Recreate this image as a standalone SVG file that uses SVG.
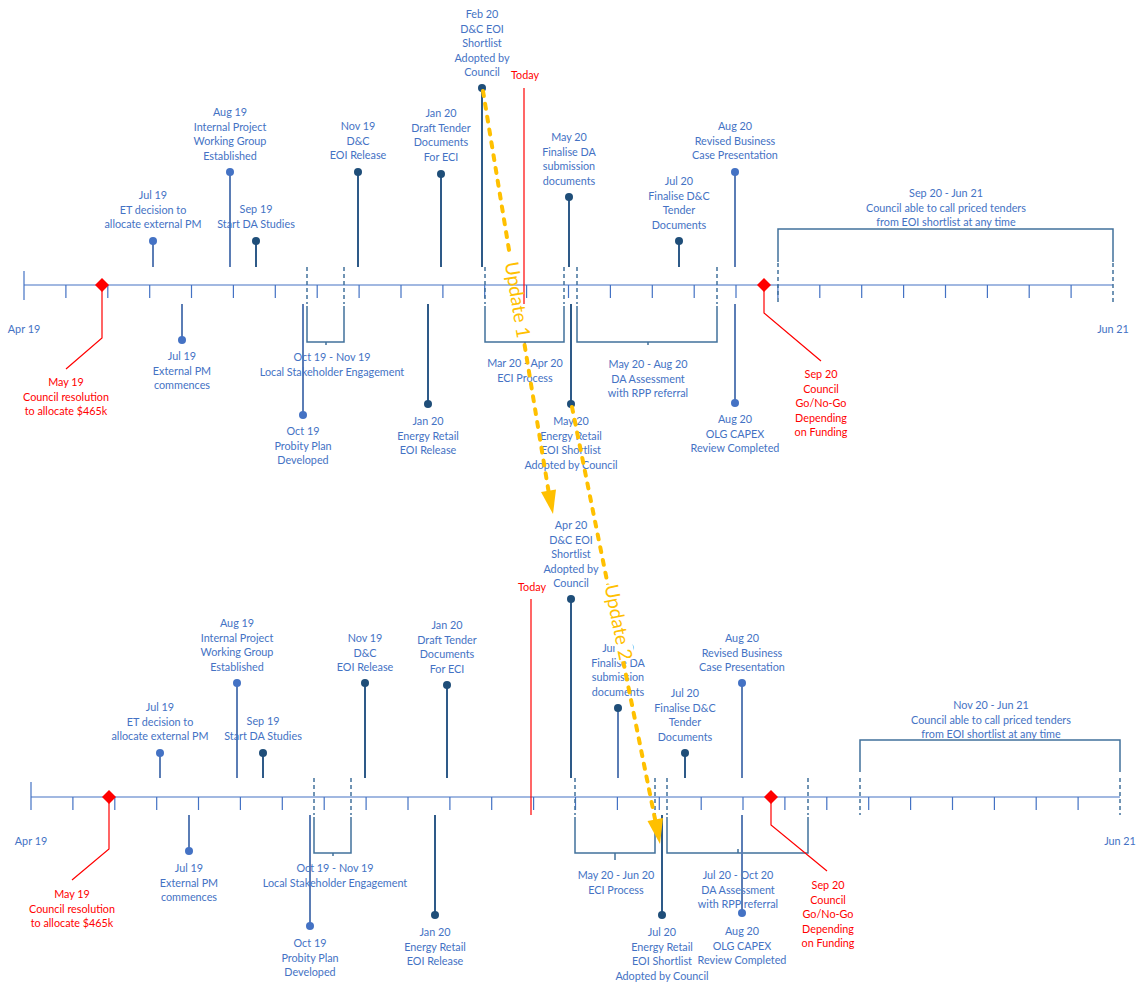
<svg xmlns="http://www.w3.org/2000/svg" width="1136" height="983" viewBox="0 0 1136 983">
<defs>
<style>
.t{font-family:Lato,"Liberation Sans",sans-serif;font-size:10.8px;fill:#4472C4;text-anchor:middle}
.r{fill:#FF0000}
.ax{stroke:#4472C4;stroke-width:1.2;fill:none}
.tk{stroke:#4472C4;stroke-width:1.2}
.s{stroke:#5B7DB5;stroke-width:2}
.sd{stroke:#2E5A88;stroke-width:2}
.d{fill:#4472C4}
.dd{fill:#1F4E79}
.b{stroke:#41719C;stroke-width:1.5;fill:none}
.bd{stroke:#41719C;stroke-width:1.5;fill:none;stroke-dasharray:4 3}
.rl{stroke:#FF0000;stroke-width:1.2;fill:none}
.up{stroke:#FFC000;stroke-width:4;fill:none;stroke-dasharray:5 8;stroke-linecap:round}
.ut{font-family:Lato,"Liberation Sans",sans-serif;font-size:19px;fill:#FFC000;text-anchor:middle}
</style>
</defs>
<rect width="1136" height="983" fill="#fff"/>

<!-- ================= TOP TIMELINE ================= -->
<g id="top-axis">
<line class="ax" x1="24" y1="285" x2="1113" y2="285"/>
<line class="tk" x1="24" y1="271" x2="24" y2="300"/>
<path class="tk" d="M65.9,285V298M107.8,285V298M149.7,285V298M191.5,285V298M233.4,285V298M275.3,285V298M317.2,285V298M359.1,285V298M401,285V298M442.9,285V298M484.7,285V298M526.6,285V298M568.5,285V298M610.4,285V298M652.3,285V298M694.2,285V298M736,285V298M777.9,285V298M819.8,285V298M861.7,285V298M903.6,285V298M945.5,285V298M987.4,285V298M1029.2,285V298M1071.1,285V298"/>
<text class="t" x="24" y="333">Apr 19</text>
<text class="t" x="1113" y="333">Jun 21</text>
</g>

<g id="t-jul19-et">
<line class="s" x1="153" y1="241" x2="153" y2="267"/><circle class="d" cx="153" cy="241" r="4"/>
<text class="t" x="153" y="199"><tspan x="153">Jul 19</tspan><tspan x="153" dy="14.6">ET decision to</tspan><tspan x="153" dy="14.6">allocate external PM</tspan></text>
</g>
<g id="t-aug19-ipwg">
<line class="s" x1="230" y1="172" x2="230" y2="267"/><circle class="d" cx="230" cy="172" r="4"/>
<text class="t" x="230" y="116"><tspan x="230">Aug 19</tspan><tspan x="230" dy="14.6">Internal Project</tspan><tspan x="230" dy="14.6">Working Group</tspan><tspan x="230" dy="14.6">Established</tspan></text>
</g>
<g id="t-sep19-da">
<line class="sd" x1="256" y1="241" x2="256" y2="267"/><circle class="dd" cx="256" cy="241" r="4"/>
<text class="t" x="256" y="213"><tspan x="256">Sep 19</tspan><tspan x="256" dy="14.6">Start DA Studies</tspan></text>
</g>
<g id="t-nov19-dc">
<line class="sd" x1="358" y1="172" x2="358" y2="267"/><circle class="dd" cx="358" cy="172" r="4"/>
<text class="t" x="358" y="130"><tspan x="358">Nov 19</tspan><tspan x="358" dy="14.6">D&amp;C</tspan><tspan x="358" dy="14.6">EOI Release</tspan></text>
</g>
<g id="t-jan20-draft">
<line class="sd" x1="441" y1="174" x2="441" y2="267"/><circle class="dd" cx="441" cy="174" r="4"/>
<text class="t" x="441" y="117"><tspan x="441">Jan 20</tspan><tspan x="441" dy="14.6">Draft Tender</tspan><tspan x="441" dy="14.6">Documents</tspan><tspan x="441" dy="14.6">For ECI</tspan></text>
</g>
<g id="t-feb20-dceoi">
<line class="sd" x1="482" y1="88" x2="482" y2="267"/><circle class="dd" cx="482" cy="88" r="4"/>
<text class="t" x="482" y="18"><tspan x="482">Feb 20</tspan><tspan x="482" dy="14.6">D&amp;C EOI</tspan><tspan x="482" dy="14.6">Shortlist</tspan><tspan x="482" dy="14.6">Adopted by</tspan><tspan x="482" dy="14.6">Council</tspan></text>
</g>
<g id="t-today">
<line class="rl" x1="524" y1="88" x2="524" y2="304"/>
<text class="t r" x="525" y="79">Today</text>
</g>
<g id="t-may20-finda">
<line class="sd" x1="569" y1="197" x2="569" y2="267"/><circle class="dd" cx="569" cy="197" r="4"/>
<text class="t" x="569" y="141"><tspan x="569">May 20</tspan><tspan x="569" dy="14.6">Finalise DA</tspan><tspan x="569" dy="14.6">submission</tspan><tspan x="569" dy="14.6">documents</tspan></text>
</g>
<g id="t-jul20-findc">
<line class="sd" x1="679" y1="241" x2="679" y2="267"/><circle class="dd" cx="679" cy="241" r="4"/>
<text class="t" x="679" y="185"><tspan x="679">Jul 20</tspan><tspan x="679" dy="14.6">Finalise D&amp;C</tspan><tspan x="679" dy="14.6">Tender</tspan><tspan x="679" dy="14.6">Documents</tspan></text>
</g>
<g id="t-aug20-rbc">
<line class="s" x1="735" y1="172" x2="735" y2="267"/><circle class="d" cx="735" cy="172" r="4"/>
<text class="t" x="735" y="130"><tspan x="735">Aug 20</tspan><tspan x="735" dy="14.6">Revised Business</tspan><tspan x="735" dy="14.6">Case Presentation</tspan></text>
</g>
<g id="t-sep20-jun21">
<path class="b" d="M778,262V229H1113V262"/>
<path class="bd" d="M778,263V303M1113,263V303"/>
<text class="t" x="946" y="197"><tspan x="946">Sep 20 - Jun 21</tspan><tspan x="946" dy="14.6">Council able to call priced tenders</tspan><tspan x="946" dy="14.6">from EOI shortlist at any time</tspan></text>
</g>
<g id="t-may19-council">
<path class="rl" d="M102,285V338L66,369"/>
<polygon fill="#FF0000" points="102,278 109,285 102,292 95,285"/>
<text class="t r" x="66" y="386"><tspan x="66">May 19</tspan><tspan x="66" dy="14.6">Council resolution</tspan><tspan x="66" dy="14.6">to allocate $465k</tspan></text>
</g>
<g id="t-jul19-ext">
<line class="s" x1="182" y1="304" x2="182" y2="340"/><circle class="d" cx="182" cy="340" r="4"/>
<text class="t" x="182" y="360"><tspan x="182">Jul 19</tspan><tspan x="182" dy="14.6">External PM</tspan><tspan x="182" dy="14.6">commences</tspan></text>
</g>
<g id="t-oct19-probity">
<line class="s" x1="303" y1="304" x2="303" y2="415"/><circle class="d" cx="303" cy="415" r="4"/>
<text class="t" x="303" y="435"><tspan x="303">Oct 19</tspan><tspan x="303" dy="14.6">Probity Plan</tspan><tspan x="303" dy="14.6">Developed</tspan></text>
</g>
<g id="t-oct19-nov19">
<path class="bd" d="M307,267V304M344,267V304"/>
<path class="b" d="M307,306V342H344V306M326,342V345"/>
<text class="t" x="332" y="361"><tspan x="332">Oct 19 - Nov 19</tspan><tspan x="332" dy="14.6">Local Stakeholder Engagement</tspan></text>
</g>
<g id="t-jan20-energy">
<line class="sd" x1="428" y1="304" x2="428" y2="404"/><circle class="dd" cx="428" cy="404" r="4"/>
<text class="t" x="428" y="425"><tspan x="428">Jan 20</tspan><tspan x="428" dy="14.6">Energy Retail</tspan><tspan x="428" dy="14.6">EOI Release</tspan></text>
</g>
<g id="t-mar20-apr20">
<path class="bd" d="M485,267V304M564,267V304"/>
<path class="b" d="M485,306V342H564V306M525,342V346"/>
<text class="t" x="525" y="367"><tspan x="525">Mar 20 - Apr 20</tspan><tspan x="525" dy="14.6">ECI Process</tspan></text>
</g>
<g id="t-may20-energy">
<line class="sd" x1="571" y1="304" x2="571" y2="404"/><circle class="dd" cx="571" cy="404" r="4"/>
<text class="t" x="571" y="425"><tspan x="571">May 20</tspan><tspan x="571" dy="14.6">Energy Retail</tspan><tspan x="571" dy="14.6">EOI Shortlist</tspan><tspan x="571" dy="14.6">Adopted by Council</tspan></text>
</g>
<g id="t-may20-aug20">
<path class="bd" d="M577,267V304M717,267V304"/>
<path class="b" d="M577,306V342H717V306M648,342V345"/>
<text class="t" x="648" y="368"><tspan x="648">May 20 - Aug 20</tspan><tspan x="648" dy="14.6">DA Assessment</tspan><tspan x="648" dy="14.6">with RPP referral</tspan></text>
</g>
<g id="t-aug20-olg">
<line class="s" x1="735" y1="304" x2="735" y2="403"/><circle class="d" cx="735" cy="403" r="4"/>
<text class="t" x="735" y="423"><tspan x="735">Aug 20</tspan><tspan x="735" dy="14.6">OLG CAPEX</tspan><tspan x="735" dy="14.6">Review Completed</tspan></text>
</g>
<g id="t-sep20-council">
<path class="rl" d="M764,285V313L821,361"/>
<polygon fill="#FF0000" points="764,278 771,285 764,292 757,285"/>
<text class="t r" x="821" y="378"><tspan x="821">Sep 20</tspan><tspan x="821" dy="14.6">Council</tspan><tspan x="821" dy="14.6">Go/No-Go</tspan><tspan x="821" dy="14.6">Depending</tspan><tspan x="821" dy="14.6">on Funding</tspan></text>
</g>

<!-- ================= BOTTOM TIMELINE ================= -->
<g id="bottom-axis">
<line class="ax" x1="31" y1="797" x2="1120" y2="797"/>
<line class="tk" x1="31" y1="782" x2="31" y2="810"/>
<path class="tk" d="M72.9,797V810M114.8,797V810M156.7,797V810M198.5,797V810M240.4,797V810M282.3,797V810M324.2,797V810M366.1,797V810M408,797V810M449.9,797V810M491.7,797V810M533.6,797V810M575.5,797V810M617.4,797V810M659.3,797V810M701.2,797V810M743,797V810M784.9,797V810M826.8,797V810M868.7,797V810M910.6,797V810M952.5,797V810M994.4,797V810M1036.2,797V810M1078.1,797V810"/>
<text class="t" x="31" y="845">Apr 19</text>
<text class="t" x="1120" y="845">Jun 21</text>
</g>

<g id="b-jul19-et">
<line class="s" x1="160" y1="753" x2="160" y2="778"/><circle class="d" cx="160" cy="753" r="4"/>
<text class="t" x="160" y="711"><tspan x="160">Jul 19</tspan><tspan x="160" dy="14.6">ET decision to</tspan><tspan x="160" dy="14.6">allocate external PM</tspan></text>
</g>
<g id="b-aug19-ipwg">
<line class="s" x1="237" y1="683" x2="237" y2="778"/><circle class="d" cx="237" cy="683" r="4"/>
<text class="t" x="237" y="627"><tspan x="237">Aug 19</tspan><tspan x="237" dy="14.6">Internal Project</tspan><tspan x="237" dy="14.6">Working Group</tspan><tspan x="237" dy="14.6">Established</tspan></text>
</g>
<g id="b-sep19-da">
<line class="sd" x1="263" y1="753" x2="263" y2="778"/><circle class="dd" cx="263" cy="753" r="4"/>
<text class="t" x="263" y="725"><tspan x="263">Sep 19</tspan><tspan x="263" dy="14.6">Start DA Studies</tspan></text>
</g>
<g id="b-nov19-dc">
<line class="sd" x1="365" y1="683" x2="365" y2="778"/><circle class="dd" cx="365" cy="683" r="4"/>
<text class="t" x="365" y="642"><tspan x="365">Nov 19</tspan><tspan x="365" dy="14.6">D&amp;C</tspan><tspan x="365" dy="14.6">EOI Release</tspan></text>
</g>
<g id="b-jan20-draft">
<line class="sd" x1="447" y1="685" x2="447" y2="778"/><circle class="dd" cx="447" cy="685" r="4"/>
<text class="t" x="447" y="629"><tspan x="447">Jan 20</tspan><tspan x="447" dy="14.6">Draft Tender</tspan><tspan x="447" dy="14.6">Documents</tspan><tspan x="447" dy="14.6">For ECI</tspan></text>
</g>
<g id="b-today">
<line class="rl" x1="531" y1="599" x2="531" y2="815"/>
<text class="t r" x="532" y="591">Today</text>
</g>
<g id="b-apr20-dceoi">
<line class="sd" x1="571" y1="599" x2="571" y2="778"/><circle class="dd" cx="571" cy="599" r="4"/>
<text class="t" x="571" y="529"><tspan x="571">Apr 20</tspan><tspan x="571" dy="14.6">D&amp;C EOI</tspan><tspan x="571" dy="14.6">Shortlist</tspan><tspan x="571" dy="14.6">Adopted by</tspan><tspan x="571" dy="14.6">Council</tspan></text>
</g>
<g id="b-jun20-finda">
<line class="s" x1="618" y1="708" x2="618" y2="778"/><circle class="dd" cx="618" cy="708" r="4"/>
<text class="t" x="618" y="652"><tspan x="618">Jun 20</tspan><tspan x="618" dy="14.6">Finalise DA</tspan><tspan x="618" dy="14.6">submission</tspan><tspan x="618" dy="14.6">documents</tspan></text>
</g>
<g id="b-jul20-findc">
<line class="sd" x1="685" y1="753" x2="685" y2="778"/><circle class="dd" cx="685" cy="753" r="4"/>
<text class="t" x="685" y="697"><tspan x="685">Jul 20</tspan><tspan x="685" dy="14.6">Finalise D&amp;C</tspan><tspan x="685" dy="14.6">Tender</tspan><tspan x="685" dy="14.6">Documents</tspan></text>
</g>
<g id="b-aug20-rbc">
<line class="s" x1="742" y1="683" x2="742" y2="778"/><circle class="d" cx="742" cy="683" r="4"/>
<text class="t" x="742" y="642"><tspan x="742">Aug 20</tspan><tspan x="742" dy="14.6">Revised Business</tspan><tspan x="742" dy="14.6">Case Presentation</tspan></text>
</g>
<g id="b-nov20-jun21">
<path class="b" d="M860,772V740H1120V772"/>
<path class="bd" d="M860,778V815M1120,778V815"/>
<text class="t" x="991" y="709"><tspan x="991">Nov 20 - Jun 21</tspan><tspan x="991" dy="14.6">Council able to call priced tenders</tspan><tspan x="991" dy="14.6">from EOI shortlist at any time</tspan></text>
</g>
<g id="b-may19-council">
<path class="rl" d="M109,797V849L72,880"/>
<polygon fill="#FF0000" points="109,790 116,797 109,804 102,797"/>
<text class="t r" x="72" y="898"><tspan x="72">May 19</tspan><tspan x="72" dy="14.6">Council resolution</tspan><tspan x="72" dy="14.6">to allocate $465k</tspan></text>
</g>
<g id="b-jul19-ext">
<line class="s" x1="189" y1="815" x2="189" y2="851"/><circle class="d" cx="189" cy="851" r="4"/>
<text class="t" x="189" y="872"><tspan x="189">Jul 19</tspan><tspan x="189" dy="14.6">External PM</tspan><tspan x="189" dy="14.6">commences</tspan></text>
</g>
<g id="b-oct19-probity">
<line class="s" x1="310" y1="815" x2="310" y2="926"/><circle class="d" cx="310" cy="926" r="4"/>
<text class="t" x="310" y="947"><tspan x="310">Oct 19</tspan><tspan x="310" dy="14.6">Probity Plan</tspan><tspan x="310" dy="14.6">Developed</tspan></text>
</g>
<g id="b-oct19-nov19">
<path class="bd" d="M314,778V815M351,778V815"/>
<path class="b" d="M314,817V853H351V817M333,853V856"/>
<text class="t" x="335" y="872"><tspan x="335">Oct 19 - Nov 19</tspan><tspan x="335" dy="14.6">Local Stakeholder Engagement</tspan></text>
</g>
<g id="b-jan20-energy">
<line class="sd" x1="435" y1="815" x2="435" y2="915"/><circle class="dd" cx="435" cy="915" r="4"/>
<text class="t" x="435" y="936"><tspan x="435">Jan 20</tspan><tspan x="435" dy="14.6">Energy Retail</tspan><tspan x="435" dy="14.6">EOI Release</tspan></text>
</g>
<g id="b-may20-jun20">
<path class="bd" d="M575,778V815M655,778V815"/>
<path class="b" d="M575,817V853H655V817M615,853V860"/>
<text class="t" x="616" y="879"><tspan x="616">May 20 - Jun 20</tspan><tspan x="616" dy="14.6">ECI Process</tspan></text>
</g>
<g id="b-jul20-energy">
<line class="sd" x1="662" y1="815" x2="662" y2="915"/><circle class="dd" cx="662" cy="915" r="4"/>
<text class="t" x="662" y="936"><tspan x="662">Jul 20</tspan><tspan x="662" dy="14.6">Energy Retail</tspan><tspan x="662" dy="14.6">EOI Shortlist</tspan><tspan x="662" dy="14.6">Adopted by Council</tspan></text>
</g>
<g id="b-jul20-oct20">
<path class="bd" d="M667,778V815M808,778V815"/>
<path class="b" d="M667,817V853H808V817M738,853V849"/>
<text class="t" x="738" y="879"><tspan x="738">Jul 20 - Oct 20</tspan><tspan x="738" dy="14.6">DA Assessment</tspan><tspan x="738" dy="14.6">with RPP referral</tspan></text>
</g>
<g id="b-aug20-olg">
<line class="s" x1="742" y1="815" x2="742" y2="913"/><circle class="d" cx="742" cy="913" r="4"/>
<text class="t" x="742" y="935"><tspan x="742">Aug 20</tspan><tspan x="742" dy="14.6">OLG CAPEX</tspan><tspan x="742" dy="14.6">Review Completed</tspan></text>
</g>
<g id="b-sep20-council">
<path class="rl" d="M771,797V825L827,871"/>
<polygon fill="#FF0000" points="771,790 778,797 771,804 764,797"/>
<text class="t r" x="828" y="889"><tspan x="828">Sep 20</tspan><tspan x="828" dy="14.6">Council</tspan><tspan x="828" dy="14.6">Go/No-Go</tspan><tspan x="828" dy="14.6">Depending</tspan><tspan x="828" dy="14.6">on Funding</tspan></text>
</g>

<!-- ================= UPDATE CONNECTORS ================= -->
<g id="connectors">
<line class="up" x1="483" y1="91" x2="510" y2="256"/>
<line class="up" x1="524.6" y1="345" x2="548.5" y2="491"/>
<polygon fill="#FFC000" points="553,514 556,489.5 541,492"/>
<text class="ut" transform="translate(517,300) rotate(80.7)" x="0" y="6">Update 1</text>
<line class="up" x1="572" y1="407" x2="655" y2="819"/>
<polygon fill="#FFC000" points="660,844 663,818 647.5,821"/>
<g transform="translate(615,623) rotate(78.5)">
<rect x="-39" y="-13" width="78" height="18" fill="#fff"/>
<text class="ut" x="0" y="3">Update 2</text>
</g>
</g>
</svg>
